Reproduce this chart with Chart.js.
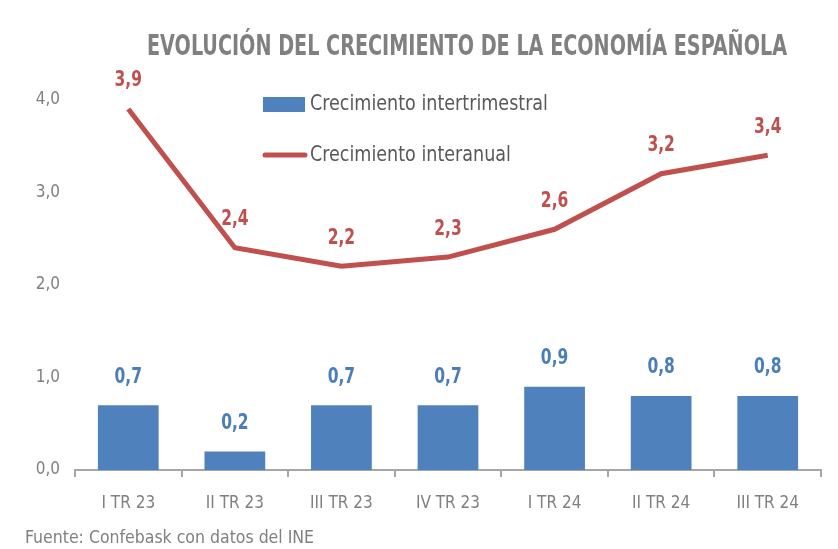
<!DOCTYPE html>
<html lang="es">
<head>
    <meta charset="UTF-8">
    <title>Evolución del crecimiento de la economía española</title>
    <script src="https://cdn.jsdelivr.net/npm/chart.js"></script>
    <style>
        html, body { margin: 0; padding: 0; background: #fff; }
        .chart-container { position: relative; width: 838px; height: 549px; }
    </style>
</head>
<body>
    <div class="chart-container">
        <canvas id="graficoCrecimiento"></canvas>
    </div>
    <script>
        // Datos
        const trimestres = ['I TR 23', 'II TR 23', 'III TR 23', 'IV TR 23', 'I TR 24', 'II TR 24', 'III TR 24'];
        const intertrimestral = [0.7, 0.2, 0.7, 0.7, 0.9, 0.8, 0.8];
        const interanual = [3.9, 2.4, 2.2, 2.3, 2.6, 3.2, 3.4];
        const ticksEje = [0, 1, 2, 3, 4];
        const titulo = 'EVOLUCIÓN DEL CRECIMIENTO DE LA ECONOMÍA ESPAÑOLA';
        const fuenteDatos = 'Fuente: Confebask con datos del INE';

        const FUENTE = "'Liberation Sans Narrow', 'DejaVu Sans Condensed', sans-serif";
        const AZUL = '#4f81bd';
        const ROJO = '#c0504d';
        const GRIS = '#808080';

        const coma = v => v.toFixed(1).replace('.', ',');

        // texto estrechado horizontalmente (imita una fuente condensada)
        function textoEstrecho(ctx, texto, x, y, escala) {
            ctx.save();
            ctx.translate(x, y);
            ctx.scale(escala, 1);
            ctx.fillText(texto, 0, 0);
            ctx.restore();
        }

        // Etiquetas de valor sobre barras y puntos
        const etiquetas = {
            id: 'etiquetas',
            afterDatasetsDraw(chart) {
                const ctx = chart.ctx;
                ctx.save();
                ctx.font = 'bold 21px ' + FUENTE;
                ctx.textAlign = 'center';
                ctx.textBaseline = 'middle';
                chart.data.datasets.forEach((ds, i) => {
                    const meta = chart.getDatasetMeta(i);
                    ctx.fillStyle = ds.labelColor;
                    meta.data.forEach((el, j) => {
                        textoEstrecho(ctx, coma(ds.data[j]), el.x, el.y - 28, 0.82);
                    });
                });
                ctx.restore();
            }
        };

        // Título y leyenda
        const rotulos = {
            id: 'rotulos',
            afterDraw(chart) {
                const ctx = chart.ctx;
                ctx.save();
                ctx.textBaseline = 'middle';

                ctx.font = 'bold 29px ' + FUENTE;
                ctx.fillStyle = GRIS;
                ctx.textAlign = 'center';
                const ancho = ctx.measureText(titulo).width;
                textoEstrecho(ctx, titulo, 467, 47, 640 / ancho);

                ctx.textAlign = 'left';
                ctx.font = '22px ' + FUENTE;
                chart.data.datasets.forEach(ds => {
                    const esBarra = ds.type === 'bar';
                    const y = esBarra ? 104 : 155;
                    if (esBarra) {
                        ctx.fillStyle = AZUL;
                        ctx.fillRect(263, 97, 42, 15);
                    } else {
                        ctx.strokeStyle = ROJO;
                        ctx.lineWidth = 5;
                        ctx.lineCap = 'round';
                        ctx.beginPath();
                        ctx.moveTo(265, y);
                        ctx.lineTo(305, y);
                        ctx.stroke();
                    }
                    ctx.fillStyle = '#595959';
                    const w = ctx.measureText('Crecimiento intertrimestral').width;
                    textoEstrecho(ctx, ds.label, 310, y, 238 / w);
                });
                ctx.restore();
            }
        };

        const ctx = document.getElementById('graficoCrecimiento').getContext('2d');
        new Chart(ctx, {
            data: {
                labels: trimestres,
                datasets: [
                    {
                        type: 'line',
                        label: 'Crecimiento interanual',
                        data: interanual,
                        borderColor: ROJO,
                        borderWidth: 5,
                        pointRadius: 0,
                        tension: 0,
                        labelColor: ROJO,
                        order: 0
                    },
                    {
                        type: 'bar',
                        label: 'Crecimiento intertrimestral',
                        data: intertrimestral,
                        backgroundColor: AZUL,
                        barPercentage: 0.57,
                        categoryPercentage: 1,
                        labelColor: '#4a7ebb',
                        order: 1
                    }
                ]
            },
            options: {
                responsive: true,
                maintainAspectRatio: false,
                animation: false,
                layout: { padding: { left: 25, right: 17, top: 58, bottom: 0 } },
                scales: {
                    x: {
                        grid: {
                            display: true,
                            drawOnChartArea: false,
                            offset: true,
                            tickLength: 7,
                            color: '#a6a6a6',
                            lineWidth: 2
                        },
                        border: { display: true, color: '#a6a6a6', width: 2 },
                        ticks: {
                            color: GRIS,
                            font: { family: FUENTE, size: 17 },
                            padding: 16,
                            maxRotation: 0
                        },
                        afterFit(scale) { scale.height = 58; }
                    },
                    y: {
                        min: 0,
                        max: 4.45,
                        grid: { display: false },
                        border: { display: false },
                        ticks: {
                            color: GRIS,
                            font: { family: FUENTE, size: 17 },
                            padding: 7,
                            callback: v => coma(v)
                        },
                        afterBuildTicks(scale) {
                            scale.ticks = ticksEje.map(v => ({ value: v }));
                        },
                        afterFit(scale) { scale.width = 50; }
                    }
                },
                plugins: {
                    legend: { display: false },
                    tooltip: { enabled: false },
                    title: { display: false },
                    subtitle: {
                        display: true,
                        position: 'bottom',
                        align: 'start',
                        text: fuenteDatos,
                        color: GRIS,
                        font: { family: FUENTE, size: 17.5 },
                        padding: { top: 0, bottom: 0 }
                    }
                }
            },
            plugins: [etiquetas, rotulos]
        });
    </script>
</body>
</html>
